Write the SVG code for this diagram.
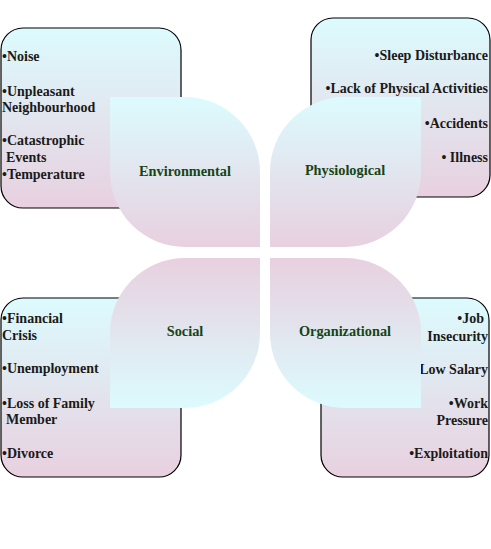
<svg xmlns="http://www.w3.org/2000/svg" width="491" height="549" viewBox="0 0 491 549">
<style>
.box{stroke:#000;stroke-width:1.2;fill:url(#gDown)}
.t{font-family:"Liberation Serif","Times New Roman",serif;font-weight:bold;font-size:14px;fill:#1a1a1a}
.r{text-anchor:end}
.lbl{font-family:"Liberation Serif","Times New Roman",serif;font-weight:bold;font-size:14.3px;fill:#154515;text-anchor:middle}
</style>
<defs>
<linearGradient id="gDown" x1="0" y1="0" x2="0" y2="1">
<stop offset="0" stop-color="#dcfbfe"/>
<stop offset="1" stop-color="#e8d0df"/>
</linearGradient>
<linearGradient id="gUp" x1="0" y1="1" x2="0" y2="0">
<stop offset="0" stop-color="#dcfbfe"/>
<stop offset="1" stop-color="#e8d0df"/>
</linearGradient>
</defs>
<rect width="491" height="549" fill="#fff"/>
<g id="connectors"></g>
<g id="box-environmental">
<rect class="box" x="1" y="28" width="180" height="180" rx="22"/>
<text class="t" x="2" y="61">•Noise</text>
<text class="t" x="2" y="96">•Unpleasant</text>
<text class="t" x="2" y="112">Neighbourhood</text>
<text class="t" x="2" y="145">•Catastrophic</text>
<text class="t" x="6" y="162">Events</text>
<text class="t" x="2" y="179">•Temperature</text>
</g>
<g id="box-physiological">
<rect class="box" x="311" y="18" width="179" height="179" rx="22"/>
<text class="t r" x="488" y="60">•Sleep Disturbance</text>
<text class="t r" x="488" y="93">•Lack of Physical Activities</text>
<text class="t r" x="488" y="128">•Accidents</text>
<text class="t r" x="488" y="162">• Illness</text>
</g>
<g id="box-social">
<rect class="box" x="1" y="298" width="180" height="179" rx="22"/>
<text class="t" x="2" y="323">•Financial</text>
<text class="t" x="2" y="340">Crisis</text>
<text class="t" x="2" y="373">•Unemployment</text>
<text class="t" x="2" y="408">•Loss of Family</text>
<text class="t" x="6" y="424">Member</text>
<text class="t" x="2" y="458">•Divorce</text>
</g>
<g id="box-organizational">
<rect class="box" x="321" y="298" width="168" height="179" rx="22"/>
<text class="t r" x="484" y="323">•Job</text>
<text class="t r" x="488" y="341">Insecurity</text>
<text class="t r" x="488" y="374">Low Salary</text>
<text class="t r" x="488" y="408">•Work</text>
<text class="t r" x="488" y="425">Pressure</text>
<text class="t r" x="488" y="458">•Exploitation</text>
</g>
<g id="node-environmental">
<path d="M110,97 H185 A75,75 0 0 1 260,172 V247 H185 A75,75 0 0 1 110,172 Z" fill="url(#gDown)"/>
<text class="lbl" x="185" y="176">Environmental</text>
</g>
<g id="node-physiological">
<path d="M270,247 V172 A75,75 0 0 1 345,97 H421 V172 A76,75 0 0 1 345,247 Z" fill="url(#gDown)"/>
<text class="lbl" x="345" y="175">Physiological</text>
</g>
<g id="node-social">
<path d="M110,408 V333 A75,75 0 0 1 185,258 H260 V333 A75,75 0 0 1 185,408 Z" fill="url(#gUp)"/>
<text class="lbl" x="185" y="336">Social</text>
</g>
<g id="node-organizational">
<path d="M270,258 H345 A76,75 0 0 1 421,333 V408 H345 A75,75 0 0 1 270,333 Z" fill="url(#gUp)"/>
<text class="lbl" x="345" y="336">Organizational</text>
</g>
</svg>
